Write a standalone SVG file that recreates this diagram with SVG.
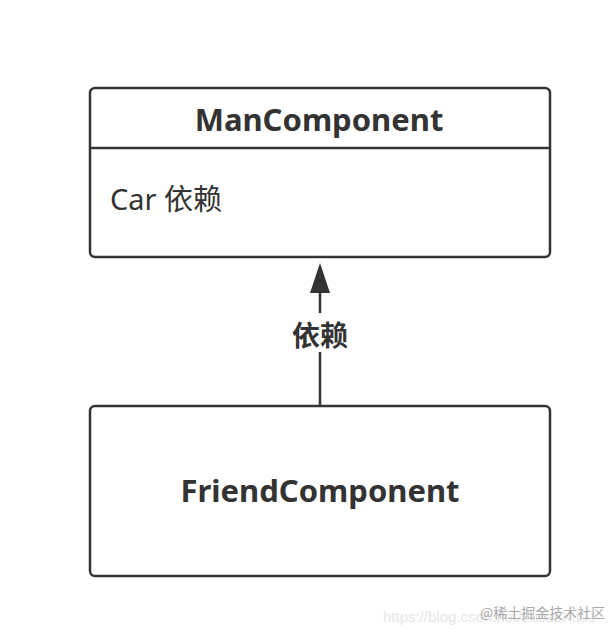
<svg xmlns="http://www.w3.org/2000/svg" width="614" height="640" viewBox="0 0 614 640">
<style>
.box{fill:#fff;stroke:#333;stroke-width:2.5}
.t{font-family:"Noto Sans","Noto Sans CJK SC",sans-serif;fill:#333}
.b{font-weight:bold;font-size:31px}
.conn{stroke:#333;stroke-width:2.5;fill:none}
</style>
<rect width="614" height="640" fill="#fff"/>
<g id="ManComponent">
<rect class="box" x="90" y="88" width="460" height="169" rx="5"/>
<line class="conn" x1="90" y1="148" x2="550" y2="148"/>
<text class="t b" x="319" y="131" text-anchor="middle">ManComponent</text>
<text class="t" x="110" y="210" font-size="29" fill="#444">Car 依赖</text>
</g>
<g id="FriendComponent">
<rect class="box" x="90" y="406" width="460" height="170" rx="5"/>
<text class="t b" x="320" y="502" text-anchor="middle">FriendComponent</text>
</g>
<g id="connectors">
<line class="conn" x1="320" y1="406" x2="320" y2="352"/>
<line class="conn" x1="320" y1="313" x2="320" y2="292"/>
<path d="M310,293 L320,263 L330,293 Z" fill="#333"/>
<text class="t" x="320" y="346" text-anchor="middle" font-size="28" font-weight="bold">依赖</text>
</g>
<g id="watermark">
<text x="383" y="622" font-family="Liberation Sans, sans-serif" font-size="15" fill="#e6e6e6">https://blog.csdn.net/LucasXu01</text>
<text x="480" y="618" font-family="Noto Sans CJK SC, sans-serif" font-size="14" fill="#aaa">@稀土掘金技术社区</text>
</g>
</svg>
